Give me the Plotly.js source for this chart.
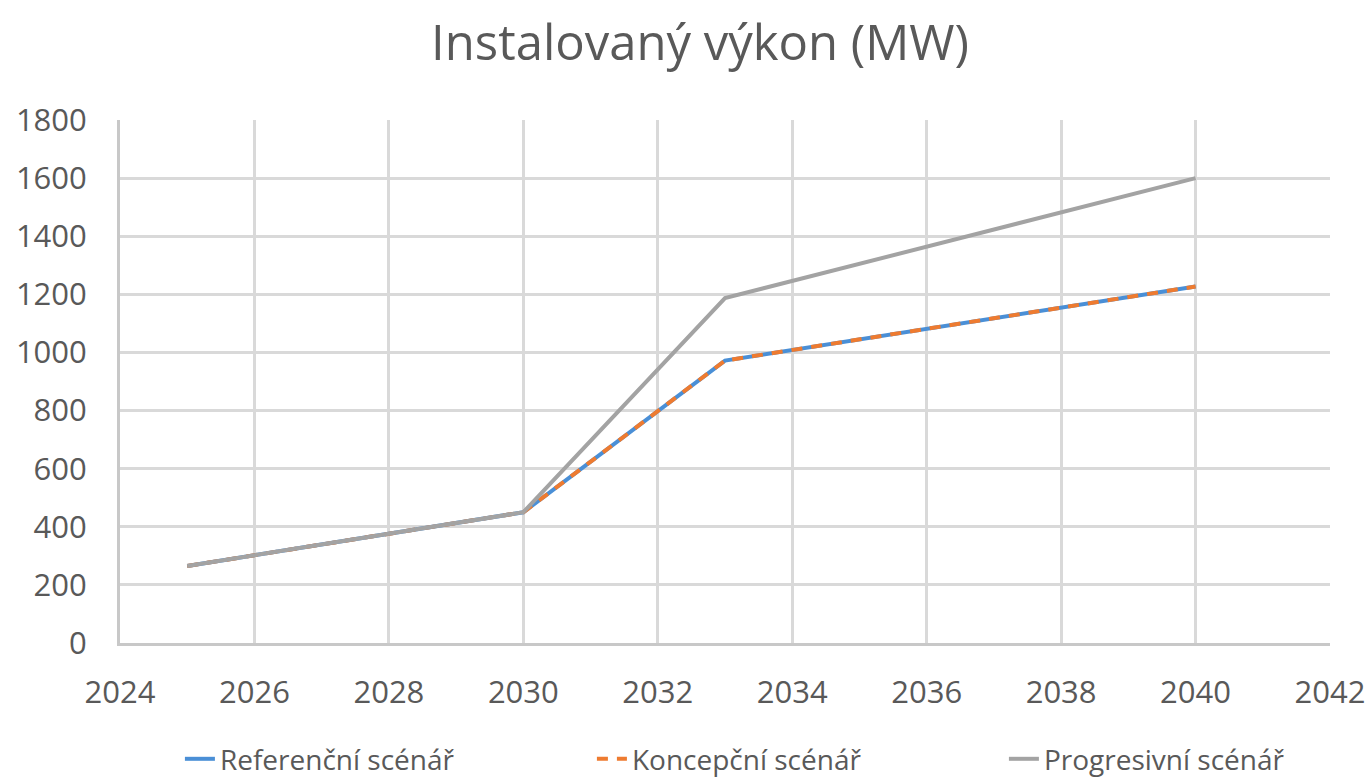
<!DOCTYPE html>
<html>
<head>
<meta charset="utf-8">
<script src="https://cdn.plot.ly/plotly-3.0.1.min.js"></script>
<style>html,body{margin:0;padding:0;background:#fff;}#chart{width:1370px;height:782px;}</style>
</head>
<body>
<div id="chart"></div>
<script>
const years = [2025, 2030, 2033, 2040];
const referencni = [265, 450, 972, 1227];
const koncepcni = [265, 450, 972, 1227];
const progresivni = [265, 450, 1187, 1600];
const seriesNames = ["Referenční scénář", "Koncepční scénář", "Progresivní scénář"];
const xTicks = [2024, 2026, 2028, 2030, 2032, 2034, 2036, 2038, 2040, 2042];
const yTicks = [0, 200, 400, 600, 800, 1000, 1200, 1400, 1600, 1800];

const font = "Open Sans, Segoe UI, sans-serif";
const traces = [
  {x: years, y: referencni, name: seriesNames[0], mode: "lines",
   line: {color: "#4a8fd6", width: 4}},
  {x: years, y: koncepcni, name: seriesNames[1], mode: "lines",
   line: {color: "#ee7b30", width: 4, dash: "11px,9px"}},
  {x: years, y: progresivni, name: seriesNames[2], mode: "lines",
   line: {color: "#a3a3a3", width: 4}}
];
const layout = {
  width: 1370, height: 782,
  margin: {l: 120, r: 40, t: 120, b: 139, autoexpand: false},
  paper_bgcolor: "#fff", plot_bgcolor: "#fff",
  font: {family: font, color: "#595959", size: 31},
  title: {text: "Instalovaný výkon (MW)", font: {size: 49, color: "#595959", family: font},
          x: 0.511, xanchor: "center", y: 0.945, yanchor: "middle"},
  xaxis: {range: [2024, 2042], tickvals: xTicks, ticktext: xTicks.map(String),
          showgrid: true, gridcolor: "#d9d9d9", gridwidth: 3,
          showline: true, linecolor: "#c8c8c8", linewidth: 3,
          zeroline: false, ticks: "", ticklabelstandoff: 20,
          tickfont: {size: 31, color: "#595959"}, fixedrange: true},
  yaxis: {range: [0, 1800], tickvals: yTicks, ticktext: yTicks.map(String),
          showgrid: true, gridcolor: "#d9d9d9", gridwidth: 3,
          showline: true, linecolor: "#c8c8c8", linewidth: 3,
          zeroline: false, ticks: "", ticklabelstandoff: 24,
          tickfont: {size: 31, color: "#595959"}, fixedrange: true},
  showlegend: true,
  legend: {orientation: "h", x: 1.071, xanchor: "right", y: -0.222, yanchor: "middle",
           entrywidth: 367, font: {size: 28, color: "#595959"}, bgcolor: "rgba(0,0,0,0)",
           itemwidth: 30}
};
Plotly.newPlot("chart", traces, layout, {displayModeBar: false, staticPlot: true});
</script>
</body>
</html>
